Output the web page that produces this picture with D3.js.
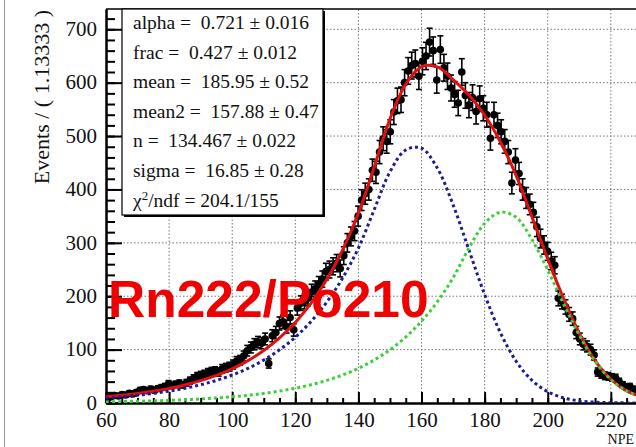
<!DOCTYPE html>
<html>
<head>
<meta charset="utf-8">
<script src="https://cdn.jsdelivr.net/npm/d3@7"></script>
<style>
  body { margin: 0; background: #fff; }
  svg { display: block; }
</style>
</head>
<body>
<svg id="chart" width="636" height="447"></svg>
<script>
// Histogram binning
const binStart = 60;
const binWidth = 1.13333;

// Events per bin
const counts = [
  8, 12, 14, 13, 16, 15, 18, 17, 20, 24,
  25, 23, 26, 24, 27, 29, 31, 36, 33, 35,
  37, 34, 38, 42, 46, 50, 52, 54, 57, 59,
  60, 58, 64, 66, 68, 72, 78, 80, 88, 98,
  104, 110, 114, 112, 120, 74, 126, 132, 149, 152,
  143, 160, 137, 178, 187, 190, 196, 208, 214, 222,
  232, 246, 250, 256, 262, 252, 276, 300, 312, 322,
  350, 380, 392, 400, 436, 432, 470, 495, 490, 508,
  545, 566, 568, 600, 622, 632, 636, 612, 640, 650,
  676, 660, 605, 662, 628, 612, 590, 578, 562, 620,
  576, 558, 572, 546, 570, 552, 540, 496, 540, 520,
  508, 490, 470, 412, 455, 430, 400, 384, 372, 357,
  330, 308, 296, 284, 266, 258, 196, 190, 180, 166,
  158, 132, 120, 110, 106, 100, 90, 58, 54, 51,
  50, 48, 47, 40, 34, 30, 31, 26, 22, 19
];

// Fit curves sampled along NPE
const curveX = [60, 65, 70, 75, 80, 85, 90, 95, 100, 105, 110, 115, 120, 125, 130, 135, 140, 145,
  150, 155, 160, 165, 170, 175, 180, 185, 190, 195, 200, 205, 210, 215, 220, 225, 230];
const fitTotal = [11.6, 14.3, 17.8, 22.0, 27.3, 33.8, 41.9, 51.8, 64.1, 79.4, 98.4, 121.9, 150.9, 187.0,
  231.6, 286.8, 355.3, 442, 532, 597, 630, 629.5, 605.9, 576.9, 539.4, 489, 426, 348.5, 270, 196,
  131, 79.5, 44.5, 22.7, 10.9];
const fitMean2 = [9.5, 11.7, 14.5, 18.0, 22.3, 27.6, 34.2, 42.3, 52.4, 64.9, 80.4, 99.6, 123.3, 152.8,
  189.2, 234.3, 290.3, 362, 433, 474, 477.2, 440, 371.4, 287.1, 203.1, 131.7, 78.2, 42.5, 21.2, 9.7,
  4.0, 1.5, 0.5, 0.2, 0.05];
const fitMean = [2.1, 2.6, 3.3, 4.0, 5.0, 6.2, 7.7, 9.5, 11.7, 14.5, 18.0, 22.3, 27.6, 34.2, 42.4, 52.5,
  65.0, 80.5, 99.7, 123.4, 153.0, 189.5, 234.5, 289.8, 336.3, 357.3, 347.8, 306, 249, 186, 127, 78,
  44, 22.5, 10.8];

// Axis ticks
const xTicks = [60, 80, 100, 120, 140, 160, 180, 200, 220];
const yTicks = [0, 100, 200, 300, 400, 500, 600, 700];

// Fit results box
const statLines = [
  "alpha =  0.721 \u00b1 0.016",
  "frac =  0.427 \u00b1 0.012",
  "mean =  185.95 \u00b1 0.52",
  "mean2 =  157.88 \u00b1 0.47",
  "n =  134.467 \u00b1 0.022",
  "sigma =  16.85 \u00b1 0.28"
];
const chiLine = { pre: "\u03c7", sup: "2", post: "/ndf = 204.1/155" };

const svg = d3.select("#chart");
const serif = "'Liberation Serif', 'Times New Roman', serif";

const x = d3.scaleLinear().domain([60, 234]).range([106, 655]);
const y = d3.scaleLinear().domain([0, 738]).range([403, 9]);

// pad border
svg.append("line").attr("x1", 4.5).attr("x2", 4.5).attr("y1", 0).attr("y2", 447)
  .attr("stroke", "#9a9a9a").attr("stroke-width", 1);

svg.append("defs").append("clipPath").attr("id", "plotClip")
  .append("rect").attr("x", x(60)).attr("y", y(738))
  .attr("width", x(234) - x(60)).attr("height", y(0) - y(738));

// grid
const grid = svg.append("g").attr("stroke", "#777").attr("stroke-width", 1)
  .attr("stroke-dasharray", "1.5,2");
grid.selectAll(".gx").data(xTicks.filter(v => v > 60)).join("line")
  .attr("x1", d => x(d)).attr("x2", d => x(d)).attr("y1", y(0)).attr("y2", y(738));
grid.selectAll(".gy").data(yTicks.filter(v => v > 0)).join("line")
  .attr("x1", x(60)).attr("x2", x(234)).attr("y1", d => y(d)).attr("y2", d => y(d));

// frame top
svg.append("line").attr("x1", x(60)).attr("x2", x(234)).attr("y1", y(738)).attr("y2", y(738))
  .attr("stroke", "#000").attr("stroke-width", 1.5);

// axes
function styleAxis(g) {
  g.selectAll("path.domain").attr("stroke", "#000").attr("stroke-width", 2);
  g.selectAll(".tick line").attr("stroke", "#000").attr("stroke-width", 2);
  g.selectAll("text").attr("font-family", serif).attr("font-size", 21).attr("fill", "#111");
}

const yMinor = d3.range(0, 739, 20);
svg.append("g").attr("transform", `translate(${x(60)},0)`)
  .call(d3.axisLeft(y).tickValues(yMinor).tickSizeInner(-9).tickSizeOuter(0).tickFormat(""))
  .call(styleAxis);
svg.append("g").attr("transform", `translate(${x(60)},0)`)
  .call(d3.axisLeft(y).tickValues(yTicks).tickSizeInner(-16).tickSizeOuter(0).tickPadding(9).tickFormat(d3.format("d")))
  .call(styleAxis)
  .call(g => g.selectAll("text").attr("dy", "0.3em"));

const xMinor = d3.range(60, 235, 5);
svg.append("g").attr("transform", `translate(0,${y(0)})`)
  .call(d3.axisBottom(x).tickValues(xMinor).tickSizeInner(-5).tickSizeOuter(0).tickFormat(""))
  .call(styleAxis);
svg.append("g").attr("transform", `translate(0,${y(0)})`)
  .call(d3.axisBottom(x).tickValues(xTicks).tickSizeInner(-11).tickSizeOuter(0).tickPadding(9).tickFormat(d3.format("d")))
  .call(styleAxis);

// axis titles
svg.append("text").attr("transform", `translate(49,10) rotate(-90)`)
  .attr("text-anchor", "end").attr("font-family", serif).attr("font-size", 22).attr("fill", "#111")
  .text("Events / ( 1.13333 )");
svg.append("text").attr("x", 634).attr("y", 444).attr("text-anchor", "end")
  .attr("font-family", serif).attr("font-size", 14).attr("fill", "#111").text("NPE");

const plot = svg.append("g").attr("clip-path", "url(#plotClip)");

// data points with Poisson error bars
const bins = counts.map((c, i) => ({ xc: binStart + (i + 0.5) * binWidth, n: c, err: Math.sqrt(c) }));
const pts = plot.append("g");
pts.selectAll("line.eb").data(bins).join("line")
  .attr("x1", d => x(d.xc)).attr("x2", d => x(d.xc))
  .attr("y1", d => y(d.n - d.err)).attr("y2", d => y(d.n + d.err))
  .attr("stroke", "#000").attr("stroke-width", 1.6);
pts.selectAll("line.capT").data(bins).join("line")
  .attr("x1", d => x(d.xc) - 3).attr("x2", d => x(d.xc) + 3)
  .attr("y1", d => y(d.n + d.err)).attr("y2", d => y(d.n + d.err))
  .attr("stroke", "#000").attr("stroke-width", 1.6);
pts.selectAll("line.capB").data(bins).join("line")
  .attr("x1", d => x(d.xc) - 3).attr("x2", d => x(d.xc) + 3)
  .attr("y1", d => y(d.n - d.err)).attr("y2", d => y(d.n - d.err))
  .attr("stroke", "#000").attr("stroke-width", 1.6);
pts.selectAll("circle").data(bins).join("circle")
  .attr("cx", d => x(d.xc)).attr("cy", d => y(d.n)).attr("r", 3.8).attr("fill", "#000");

// fit curves
const line = d3.line().x(d => x(d[0])).y(d => y(d[1])).curve(d3.curveCatmullRom.alpha(0.5));
plot.append("path").datum(curveX.map((v, i) => [v, fitTotal[i]])).attr("d", line)
  .attr("fill", "none").attr("stroke", "#e01010").attr("stroke-width", 3);
plot.append("path").datum(curveX.map((v, i) => [v, fitMean2[i]])).attr("d", line)
  .attr("fill", "none").attr("stroke", "#1c1c96").attr("stroke-width", 3).attr("stroke-dasharray", "3,3");
plot.append("path").datum(curveX.map((v, i) => [v, fitMean[i]])).attr("d", line)
  .attr("fill", "none").attr("stroke", "#3ccf3c").attr("stroke-width", 3).attr("stroke-dasharray", "3,3");

// fit result box with shadow
svg.append("rect").attr("x", 124).attr("y", 11).attr("width", 201).attr("height", 206).attr("fill", "#000");
svg.append("rect").attr("x", 122).attr("y", 9).attr("width", 201).attr("height", 206)
  .attr("fill", "#fff").attr("stroke", "#000").attr("stroke-width", 1.2);
const stats = svg.append("g").attr("font-family", serif).attr("font-size", 19.5).attr("fill", "#111");
statLines.forEach((s, i) => {
  stats.append("text").attr("x", 133).attr("y", 29 + i * 29.6).attr("xml:space", "preserve").text(s);
});
const chi = stats.append("text").attr("x", 133).attr("y", 29 + 6 * 29.6);
chi.append("tspan").text(chiLine.pre);
chi.append("tspan").attr("dy", -7).attr("font-size", 13).text(chiLine.sup);
chi.append("tspan").attr("dy", 7).text(chiLine.post);

// sample label
svg.append("text").attr("x", 108).attr("y", 317)
  .attr("font-family", "'Liberation Sans', Arial, sans-serif").attr("font-weight", "bold")
  .attr("font-size", 51.5).attr("fill", "#f00000").text("Rn222/Po210");
</script>
</body>
</html>
